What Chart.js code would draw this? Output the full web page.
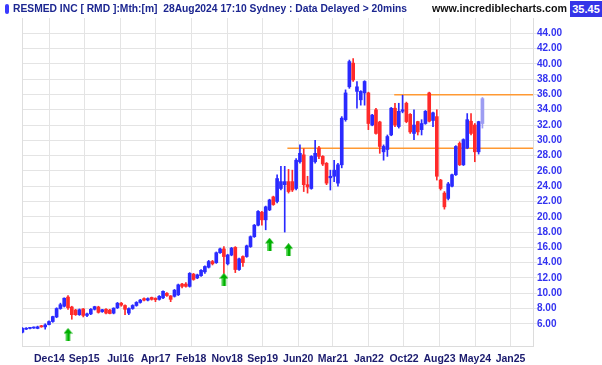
<!DOCTYPE html>
<html>
<head>
<meta charset="utf-8">
<title>RESMED INC monthly</title>
<script src="https://cdn.jsdelivr.net/npm/chart.js@4.4.1/dist/chart.umd.min.js"></script>
<style>
    body { margin: 0; background: #ffffff; }
    #wrap { position: relative; width: 602px; height: 365px; overflow: hidden; }
    #chart-rmd { position: absolute; left: 0; top: 0; }
    .hdr { position: absolute; top: 2px; font: bold 11px "Liberation Sans", Arial, sans-serif; white-space: pre; transform-origin: 0 0; }
    #icon { position: absolute; left: 5px; top: 4px; width: 4px; height: 10px; background: #3a3aff; border-radius: 2px; }
    #title { left: 13px; color: #1c2690; }
    #site { left: 432px; color: #111111; }
    #last { position: absolute; left: 570px; top: 1px; width: 32px; height: 16px; background: #3535e8; color: #ffffff;
            font: bold 11px "Liberation Sans", Arial, sans-serif; line-height: 16px; text-align: center; }
</style>
</head>
<body>
<div id="wrap">
    <canvas id="chart-rmd" width="602" height="365"></canvas>
    <div id="icon"></div>
    <div id="title" class="hdr">RESMED INC [ RMD ]:Mth:[m]  28Aug2024 17:10 Sydney : Data Delayed &gt; 20mins</div>
    <div id="site" class="hdr">www.incrediblecharts.com</div>
    <div id="last">35.45</div>
</div>
<script>
"use strict";

// monthly candles, Jul 2014 .. Aug 2024 (one entry per month)
let openVals = [
    4.9, 5.3, 5.4, 5.45, 5.4, 5.75, 5.6, 5.9, 6.3, 6.9,
    8.0, 8.3, 9.5, 8.2, 7.8, 7.2, 7.95, 7.1, 7.3, 7.9,
    8.2, 7.6, 7.9, 7.8, 7.4, 8.1, 8.7, 8.4, 7.4, 8.0,
    8.4, 8.8, 9.3, 9.1, 9.45, 9.35, 9.2, 9.4, 10.0, 9.65,
    9.6, 9.8, 11.2, 11.2, 10.9, 12.5, 12.0, 12.3, 12.8, 13.4,
    14.15, 14.0, 15.3, 15.8, 13.85, 15.0, 16.0, 13.1, 14.8, 14.8,
    16.1, 17.4, 18.9, 20.6, 19.6, 20.9, 22.6, 22.0, 23.7, 24.2,
    24.6, 24.6, 23.7, 27.2, 28.1, 24.2, 23.7, 27.2, 29.0, 27.9,
    27.0, 25.1, 25.3, 24.4, 26.8, 32.7, 37.0, 40.1, 36.4, 35.3,
    36.2, 36.2, 32.0, 34.0, 32.4, 28.5, 28.8, 30.7, 34.2, 31.8,
    33.8, 34.85, 33.4, 30.9, 32.45, 31.4, 32.2, 36.2, 32.6, 33.1,
    24.8, 23.1, 22.4, 24.0, 25.5, 29.6, 26.8, 29.0, 32.5, 32.0,
    28.5, 32.2
];
let highVals = [
    5.5, 5.5, 5.55, 5.6, 5.7, 5.8, 6.0, 6.4, 7.0, 8.1,
    8.7, 9.4, 9.7, 8.3, 7.9, 7.95, 8.0, 7.4, 8.0, 8.3,
    8.3, 7.9, 8.0, 7.9, 8.1, 8.8, 8.8, 8.5, 8.1, 8.5,
    8.9, 9.2, 9.4, 9.4, 9.5, 9.4, 9.7, 10.3, 10.1, 9.7,
    10.5, 11.2, 11.3, 11.4, 12.7, 12.6, 12.5, 13.1, 13.6, 14.3,
    14.3, 15.4, 15.9, 16.1, 15.1, 16.0, 16.1, 14.6, 14.9, 16.3,
    17.5, 19.0, 20.8, 20.7, 21.4, 22.3, 22.7, 25.5, 26.6, 26.6,
    26.2, 26.1, 27.6, 29.4, 28.9, 25.3, 28.0, 30.0, 29.2, 28.0,
    27.1, 26.1, 27.4, 27.0, 33.1, 36.6, 40.5, 40.7, 37.7, 36.5,
    37.8, 36.3, 33.4, 34.2, 32.5, 29.4, 30.7, 34.3, 34.85, 34.85,
    35.9, 35.0, 33.5, 34.0, 32.5, 32.7, 33.9, 36.3, 33.7, 34.0,
    24.9, 23.3, 24.5, 25.6, 29.3, 29.8, 30.2, 33.5, 33.5, 32.2,
    32.5, 35.6
];
let lowVals = [
    4.8, 5.25, 5.35, 5.4, 5.35, 5.55, 5.3, 5.85, 6.2, 6.8,
    7.9, 8.2, 7.9, 6.6, 7.1, 7.1, 6.9, 6.95, 7.2, 7.8,
    7.4, 7.5, 7.3, 7.3, 7.3, 8.0, 8.3, 7.2, 7.2, 7.9,
    8.3, 8.7, 9.0, 9.0, 9.1, 8.9, 9.1, 9.3, 9.6, 8.9,
    9.5, 9.7, 10.7, 10.8, 10.8, 11.7, 11.9, 12.2, 12.6, 13.3,
    13.7, 13.9, 15.2, 12.6, 13.7, 14.9, 12.7, 13.0, 13.5, 14.7,
    16.0, 17.3, 18.8, 18.9, 18.3, 20.8, 21.5, 21.8, 23.5, 18.0,
    23.1, 23.3, 23.5, 27.0, 23.3, 23.1, 23.6, 27.0, 27.6, 26.7,
    24.2, 23.5, 24.6, 24.0, 26.4, 32.5, 36.8, 37.7, 34.2, 34.6,
    34.6, 31.4, 31.9, 30.8, 28.3, 27.4, 27.9, 30.6, 31.8, 31.6,
    33.6, 32.3, 30.9, 30.1, 30.7, 30.7, 32.1, 32.4, 31.8, 24.8,
    23.5, 21.0, 22.2, 23.9, 25.4, 26.7, 26.7, 28.9, 30.7, 27.2,
    28.2, 31.6
];
let closeVals = [
    5.4, 5.4, 5.5, 5.55, 5.6, 5.6, 5.85, 6.3, 6.95, 8.0,
    8.5, 9.35, 8.1, 7.2, 7.2, 7.85, 7.1, 7.3, 7.9, 8.25,
    7.5, 7.85, 7.4, 7.35, 8.05, 8.7, 8.45, 7.9, 8.0, 8.4,
    8.8, 9.1, 9.1, 9.3, 9.2, 9.15, 9.6, 10.25, 9.7, 9.2,
    10.4, 11.1, 10.9, 10.9, 12.6, 11.8, 12.4, 13.0, 13.5, 14.15,
    13.85, 15.3, 15.8, 14.8, 15.0, 15.9, 13.1, 14.5, 14.0, 16.2,
    17.4, 18.9, 20.7, 19.6, 21.3, 22.2, 21.6, 25.0, 24.6, 24.6,
    23.3, 23.5, 27.4, 28.3, 24.2, 23.9, 27.9, 28.3, 27.9, 26.9,
    24.4, 25.3, 26.1, 26.8, 32.9, 36.2, 40.3, 37.9, 37.0, 36.4,
    37.7, 32.2, 33.3, 30.9, 29.2, 29.2, 30.5, 34.2, 32.0, 33.8,
    34.0, 32.45, 31.1, 32.0, 31.1, 32.2, 33.8, 32.5, 33.6, 25.3,
    23.7, 21.3, 24.3, 25.5, 29.2, 26.8, 30.1, 32.7, 30.9, 28.5,
    32.45, 35.45
];

// x axis labels and the bar position (month index) they sit at
let tickLabels = ["Dec14", "Sep15", "Jul16", "Apr17", "Feb18", "Nov18", "Sep19",
                  "Jun20", "Mar21", "Jan22", "Oct22", "Aug23", "May24", "Jan25"];
let tickAt = [7.13, 16.26, 25.82, 35.05, 44.39, 53.87, 63.18,
              72.55, 81.68, 91.13, 100.37, 109.71, 119.05, 128.39];

// price axis labels
let priceTicks = [6, 8, 10, 12, 14, 16, 18, 20, 22, 24, 26, 28, 30, 32, 34, 36, 38, 40, 42, 44];

// horizontal levels (orange) and buy signal arrows
let supportLevel = 28.95;
let supportFrom = 69.7;
let resistLevel = 35.95;
let resistFrom = 97.8;
let arrowAt = [12, 53, 65, 70];
let arrowPrice = [4.6, 11.8, 16.4, 15.7];

let xMin = -0.1;
let xMax = 134.3;

function candleColor(i) {
    if (i === closeVals.length - 1) {
        return "#9d9df2";
    }
    return closeVals[i] >= openVals[i] ? "#2a2aff" : "#ff2a2a";
}

function makeArrow() {
    let c = document.createElement("canvas");
    c.width = 9;
    c.height = 13;
    let g = c.getContext("2d");
    g.fillStyle = "#00b000";
    g.beginPath();
    g.moveTo(4.5, 0);
    g.lineTo(9, 5.5);
    g.lineTo(0, 5.5);
    g.closePath();
    g.fill();
    g.fillRect(2.5, 5, 4, 8);
    g.fillStyle = "#3fd03f";
    g.fillRect(2.5, 5, 1.5, 8);
    return c;
}

let wickData = [];
let bodyData = [];
let colors = [];
for (let i = 0; i < closeVals.length; i++) {
    wickData.push({ x: i, y: [lowVals[i], highVals[i]] });
    bodyData.push({ x: i, y: [openVals[i], closeVals[i]] });
    colors.push(candleColor(i));
}

let arrowData = [];
for (let i = 0; i < arrowAt.length; i++) {
    arrowData.push({ x: arrowAt[i], y: arrowPrice[i] });
}

// left frame line of the plot
let leftFrame = {
    id: "leftFrame",
    beforeDatasetsDraw(chart) {
        let ctx = chart.ctx;
        let a = chart.chartArea;
        ctx.save();
        ctx.strokeStyle = "#dedede";
        ctx.lineWidth = 1;
        ctx.beginPath();
        ctx.moveTo(a.left + 0.5, a.top);
        ctx.lineTo(a.left + 0.5, a.bottom);
        ctx.stroke();
        ctx.restore();
    }
};

let canvas = document.getElementById("chart-rmd");

let myChart = new Chart(canvas, {
    "type": "bar",
    "data": {
        "datasets": [
            {
                "type": "line",
                "label": "support",
                "data": [{ x: supportFrom, y: supportLevel }, { x: xMax, y: supportLevel }],
                "borderColor": "#ff9933",
                "borderWidth": 1.5,
                "pointRadius": 0,
                "order": 5
            },
            {
                "type": "line",
                "label": "resistance",
                "data": [{ x: resistFrom, y: resistLevel }, { x: xMax, y: resistLevel }],
                "borderColor": "#ff9933",
                "borderWidth": 1.5,
                "pointRadius": 0,
                "order": 4
            },
            {
                "label": "range",
                "data": wickData,
                "backgroundColor": colors,
                "barThickness": 1,
                "grouped": false,
                "order": 3
            },
            {
                "label": "body",
                "data": bodyData,
                "backgroundColor": colors,
                "barThickness": 3,
                "minBarLength": 1,
                "grouped": false,
                "order": 2
            },
            {
                "type": "scatter",
                "label": "signal",
                "data": arrowData,
                "pointStyle": makeArrow(),
                "pointRadius": 6,
                "order": 1
            }
        ]
    },
    "options": {
        responsive: false,
        animation: false,
        devicePixelRatio: 1,
        layout: { padding: { left: 22, top: 18, right: 0, bottom: 0 } },
        plugins: {
            legend: { display: false },
            tooltip: { enabled: false }
        },
        scales: {
            x: {
                type: "linear",
                position: "bottom",
                offset: false,
                min: xMin,
                max: xMax,
                afterBuildTicks: function (scale) {
                    scale.ticks = tickAt.map(function (v) { return { value: v }; });
                },
                afterFit: function (scale) {
                    scale.height = 19;
                },
                ticks: {
                    autoSkip: false,
                    maxRotation: 0,
                    padding: 7,
                    color: "#1a1a6e",
                    font: { family: "'Liberation Sans', Arial, sans-serif", size: 10.5, weight: "bold" },
                    callback: function (value, index) {
                        return tickLabels[index];
                    }
                },
                grid: { color: "#e4e4e4", lineWidth: 1, drawTicks: false, offset: false },
                border: { color: "#dcdcdc" }
            },
            y: {
                type: "linear",
                position: "right",
                min: 3.1,
                max: 46,
                afterBuildTicks: function (scale) {
                    scale.ticks = priceTicks.map(function (v) { return { value: v }; });
                },
                afterFit: function (scale) {
                    scale.width = 69;
                },
                ticks: {
                    padding: 0,
                    color: "#3333f0",
                    font: { family: "'Liberation Sans', Arial, sans-serif", size: 10, weight: "bold" },
                    callback: function (value) {
                        return Number(value).toFixed(2);
                    }
                },
                grid: { color: "#e4e4e4", lineWidth: 1, tickLength: 4 },
                border: { color: "#dcdcdc" }
            }
        }
    },
    "plugins": [leftFrame]
});

// stretch header texts to the widths they take in the original
function fitWidth(id, w) {
    let el = document.getElementById(id);
    let r = el.getBoundingClientRect();
    el.style.transform = "scaleX(" + (w / r.width) + ")";
}
fitWidth("title", 394);
fitWidth("site", 135);
</script>
</body>
</html>
